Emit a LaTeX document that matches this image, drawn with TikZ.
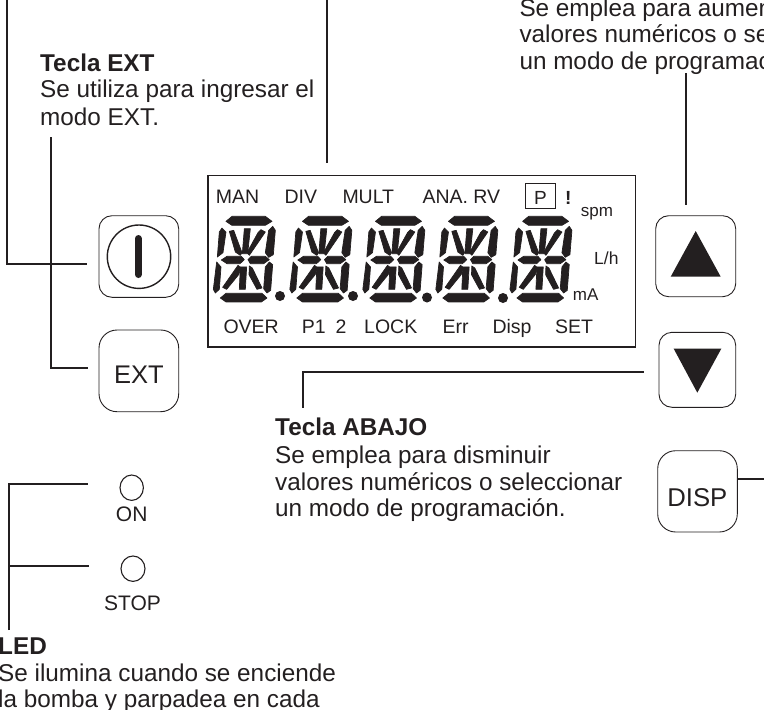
\documentclass[tikz,border=0pt]{standalone}
\usepackage{fontspec}
\usetikzlibrary{shapes.geometric}
\setmainfont{Liberation Sans}
\definecolor{ink}{HTML}{231F20}
\newcommand{\fs}[1]{\fontsize{#1}{#1}\selectfont}
\newcommand{\lcddigit}[1]{%
\begin{scope}[shift={(#1,212)},x=0.3333pt,y=-0.3333pt,line width=0.7pt,line join=round]
\filldraw[ink] (42,28)--(60,13)--(160,13)--(180,28)--(160,40)--(60,40)--cycle;
\filldraw[ink] (25,258)--(42,244)--(150,244)--(165,258)--(148,270)--(42,270)--cycle;
\filldraw[ink] (30,48)--(42,60)--(33,122)--(16,135)--(22,60)--cycle;
\filldraw[ink] (182,43)--(190,55)--(184,128)--(170,136)--(160,122)--(170,55)--cycle;
\filldraw[ink] (14,150)--(27,165)--(22,232)--(10,243)--(4,232)--cycle;
\filldraw[ink] (172,150)--(182,158)--(176,235)--(165,243)--(155,230)--(160,165)--cycle;
\filldraw[ink] (28,144)--(45,133)--(88,133)--(97,143)--(84,155)--(45,155)--cycle;
\filldraw[ink] (108,143)--(118,133)--(160,133)--(172,143)--(155,155)--(115,155)--cycle;
\filldraw[ink] (97,50)--(115,50)--(107,125)--(91,125)--cycle;
\filldraw[ink] (85,165)--(104,165)--(100,232)--(82,232)--cycle;
\filldraw[ink] (52,58)--(65,55)--(90,122)--(85,130)--(70,120)--cycle;
\filldraw[ink] (147,53)--(160,60)--(112,130)--(105,122)--(138,62)--cycle;
\filldraw[ink] (78,160)--(87,167)--(80,188)--(44,232)--(32,226)--cycle;
\filldraw[ink] (112,162)--(121,168)--(150,228)--(135,232)--(111,188)--cycle;
\end{scope}}
\tikzset{
  lead/.style={draw=ink,line width=2pt},
  keybox/.style={draw=ink,line width=0.9pt,rounded corners=13pt,inner sep=0pt},
  txt/.style={anchor=base west,inner sep=0pt,text=ink},
  ctr/.style={anchor=base,inner sep=0pt,text=ink},
  lcd/.style={txt,font=\fs{19.5}},
  body/.style={txt,font=\fs{24.3}},
  head/.style={txt,font=\fs{24.3}\bfseries},
  dotseg/.style={circle,fill=ink,inner sep=0pt,minimum size=10pt}
}
\begin{document}
\begin{tikzpicture}[x=1pt,y=-1pt]
\useasboundingbox (0,0) rectangle (764,710);
\clip (0,0) rectangle (764,710);

% text blocks
\node[head] (extT) at (40,71) {Tecla EXT};
\node[body] (ext1) at (40,97.7) {Se utiliza para ingresar el};
\node[body] (ext2) at (40,125) {modo EXT.};
\node[body] (up1) at (519.3,16) {Se emplea para aumen};
\node[body] (up2) at (519.3,42.5) {valores numéricos o se};
\node[body] (up3) at (519.3,69.3) {un modo de programac};
\node[head] (dnT) at (275,435.7) {Tecla ABAJO};
\node[body] (dn1) at (275,463) {Se emplea para disminuir};
\node[body] (dn2) at (275,490) {valores numéricos o seleccionar};
\node[body] (dn3) at (275,516.7) {un modo de programación.};
\node[head] (ledT) at (-2,654) {LED};
\node[body] (led1) at (-2,681) {Se ilumina cuando se enciende};
\node[body] (led2) at (-2,707) {la bomba y parpadea en cada};

% LCD
\node[draw=ink,line width=1.3pt,inner sep=0pt,minimum width=427.7pt,minimum height=171.3pt] (panel) at (421.85,261.35) {};
\node[lcd] (man) at (215.7,203.3) {MAN};
\node[lcd] (div) at (284.3,203.3) {DIV};
\node[lcd] (mult) at (342.3,203.3) {MULT};
\node[lcd] (ana) at (422.3,203.3) {ANA. RV};
\node[draw=ink,line width=1pt,inner sep=0pt,minimum width=29.7pt,minimum height=25pt] (pbox) at (540.8,195.8) {};
\node[ctr,font=\fs{19}] (ptxt) at (540.5,204) {P};
\node[ctr,font=\fs{19}\bfseries] (bang) at (568.3,204) {!};
\node[txt,font=\fs{17}] (spm) at (580.7,216) {spm};
\node[txt,font=\fs{17.5}] (lh) at (594,264) {L/h};
\node[txt,font=\fs{17}] (ma) at (572.7,300.7) {mA};
\node[lcd] (over) at (223.3,333.3) {OVER};
\node[lcd] (p12) at (301.7,333.3) {P1\hspace{10pt}2};
\node[lcd] (lock) at (364,333.3) {LOCK};
\node[lcd] (err) at (442.3,333.3) {Err};
\node[lcd] (disp) at (492.3,333.3) {Disp};
\node[lcd] (set) at (555,333.3) {SET};
\lcddigit{212}\lcddigit{288.5}\lcddigit{361.5}\lcddigit{434.5}\lcddigit{508.6}
\node[dotseg] (d1) at (280,296) {};
\node[dotseg] (d2) at (353,296) {};
\node[dotseg] (d3) at (427,297.5) {};
\node[dotseg] (d4) at (503,298) {};

% keys
\node[keybox,minimum width=79.7pt,minimum height=81.6pt] (pwr) at (138.85,256.5) {};
\node[draw=ink,line width=1.4pt,circle,inner sep=0pt,minimum size=63.4pt] (pwrc) at (139,256.7) {};
\draw[ink,line width=7pt,line cap=round] (138.3,238.5) -- (138.3,274.5);
\node[keybox,rounded corners=18pt,minimum width=79.7pt,minimum height=81.7pt] (extk) at (138.85,370.85) {};
\node[ctr,font=\fs{25.5}] (extl) at (139,383.3) {EXT};
\node[keybox,minimum width=80pt,minimum height=81pt] (upk) at (695.7,256.2) {};
\fill[ink] (695.7,231) -- (720.7,276.7) -- (670.7,276.7) -- cycle;
\node[keybox,minimum width=76.7pt,minimum height=75pt] (dnk) at (697.35,369.8) {};
\fill[ink] (673.7,348.7) -- (721.3,348.7) -- (697.3,392.7) -- cycle;
\node[keybox,rounded corners=18pt,minimum width=79.6pt,minimum height=81.3pt] (dispk) at (697.5,491.35) {};
\node[ctr,font=\fs{25.7}] (displ) at (697.3,506) {DISP};

% LEDs
\node[draw=ink,line width=1.1pt,ellipse,inner sep=0pt,minimum width=23.4pt,minimum height=25.4pt] (on) at (131.7,487.7) {};
\node[ctr,font=\fs{21}] (ont) at (131.7,521.7) {ON};
\node[draw=ink,line width=1.1pt,ellipse,inner sep=0pt,minimum width=24pt,minimum height=25.4pt] (stop) at (133,568.7) {};
\node[ctr,font=\fs{21}] (stopt) at (132.5,610.7) {STOP};

% connector ends
\coordinate (c1) at (7.3,0);
\coordinate (c1e) at (86.7,264.3);
\coordinate (c2) at (51,137.3);
\coordinate (c2e) at (87.7,368.3);
\coordinate (c3) at (326.7,0);
\coordinate (c3e) at (326.7,163.3);
\coordinate (c4) at (686,73.3);
\coordinate (c4e) at (686,205);
\coordinate (c5) at (303.3,407.7);
\coordinate (c5e) at (644.3,371.7);
\coordinate (c6) at (764,479.3);
\coordinate (c7) at (9,630);
\coordinate (c7e) at (87.7,484.3);
\coordinate (c8) at (9,566);
\coordinate (c8e) at (88.7,566);

\draw[lead] (c1) |- (c1e);
\draw[lead] (c2) |- (c2e);
\draw[lead] (c3) -- (c3e);
\draw[lead] (c4) -- (c4e);
\draw[lead] (c5) |- (c5e);
\draw[lead] (dispk.east |- c6) -- (c6);
\draw[lead] (c7) |- (c7e);
\draw[lead] (c8) -- (c8e);
\end{tikzpicture}
\end{document}
